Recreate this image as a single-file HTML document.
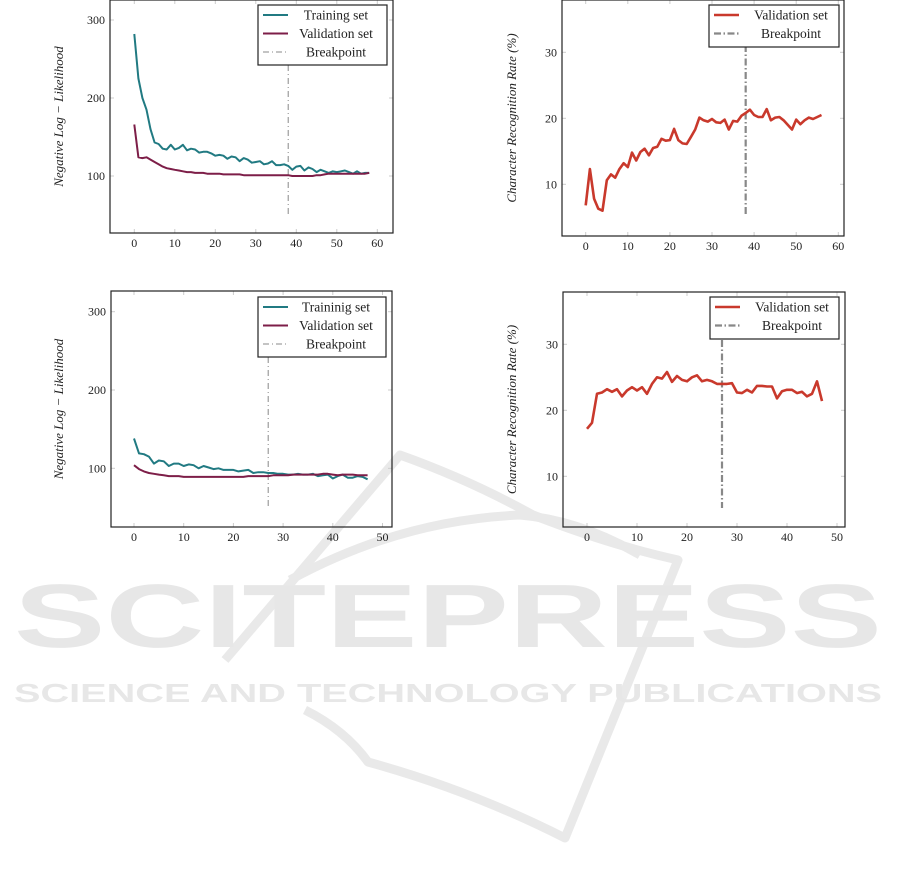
<!DOCTYPE html>
<html><head><meta charset="utf-8"><style>
html,body{margin:0;padding:0;background:#fff;}
svg{display:block;}
text{font-family:"Liberation Serif",serif;fill:#222;}
</style></head><body>
<svg id="s" width="901" height="876" viewBox="0 0 901 876" xmlns="http://www.w3.org/2000/svg">
<g fill="none" stroke="#e9e9e9" stroke-width="9" stroke-linejoin="round">
<path d="M225,660 L400,455 Q470,480 533,515 Q610,545 678,560 L565,838 Q470,790 368,762 Q345,730 305,710"/>
<path d="M290,580 Q400,520 520,515 Q580,520 640,555"/>
</g>
<text x="14" y="647" textLength="868" lengthAdjust="spacingAndGlyphs" style="fill:#e7e7e7;font-family:'Liberation Sans',sans-serif;font-weight:bold;font-size:90px">SCITEPRESS</text>
<text x="14" y="702" textLength="868" lengthAdjust="spacingAndGlyphs" style="fill:#e7e7e7;font-family:'Liberation Sans',sans-serif;font-weight:bold;font-size:26px">SCIENCE AND TECHNOLOGY PUBLICATIONS</text>
<g id="charts"></g>
</svg>
<script>
const g=document.getElementById('charts');
let h='';
function P(p){
 const {L,R,T,B,x0,xs,y0v,y1v,y0p,y1p,yt,xt}=p;
 const X=v=>x0+(v)*xs, Y=v=>y0p+(v-y0v)*(y1p-y0p)/(y1v-y0v);
 let s='';
 xt.forEach(v=>{s+=`<line x1="${X(v)}" y1="${T}" x2="${X(v)}" y2="${T+4}" stroke="#ccc"/><line x1="${X(v)}" y1="${B}" x2="${X(v)}" y2="${B-4}" stroke="#ccc"/>`;
  s+=`<text x="${X(v)}" y="${B+14}" font-size="12" text-anchor="middle">${v}</text>`;});
 yt.forEach(v=>{s+=`<line x1="${L}" y1="${Y(v)}" x2="${L+4}" y2="${Y(v)}" stroke="#ccc"/><line x1="${R}" y1="${Y(v)}" x2="${R-4}" y2="${Y(v)}" stroke="#ccc"/>`;
  s+=`<text x="${L-5}" y="${Y(v)+4}" font-size="12" text-anchor="end">${v}</text>`;});
 s+=`<line x1="${X(p.bp)}" y1="${p.bpy0}" x2="${X(p.bp)}" y2="${p.bpy1}" stroke="#888" stroke-width="${p.bw}" stroke-dasharray="${p.bw>1.5?'7,2.5,1.5,2.5':'6,3,1,3'}"/>`;
 p.series.forEach(sr=>{s+=`<polyline fill="none" stroke="${sr.c}" stroke-width="${sr.w}" stroke-linejoin="round" points="${sr.d.map((v,i)=>X(i).toFixed(1)+','+Y(v).toFixed(1)).join(' ')}"/>`;});
 s+=`<rect x="${L}" y="${T}" width="${R-L}" height="${B-T}" fill="none" stroke="#222" stroke-width="1.2"/>`;
 const lg=p.lg;
 s+=`<rect x="${lg.x}" y="${lg.y}" width="${lg.w}" height="${lg.h}" fill="#fff" stroke="#222" stroke-width="1.2"/>`;
 lg.items.forEach((it,i)=>{const yy=lg.y+10+i*18.5;
  s+=`<line x1="${lg.x+5}" y1="${yy}" x2="${lg.x+30}" y2="${yy}" stroke="${it.c}" stroke-width="${it.w}" ${it.dash?'stroke-dasharray="'+it.dash+'"':''}/>`;
  s+=`<text x="${lg.x+lg.tx}" y="${yy+4.5}" font-size="13.5" text-anchor="middle">${it.t}</text>`;});
 s+=`<text transform="translate(${p.ylx},${(T+B)/2}) rotate(-90)" font-size="13" font-style="italic" text-anchor="middle">${p.yl}</text>`;
 return s;
}
const TE='#217a82',MA='#7d1e48',RE='#c9392c';
const tl1=[282,225,200,185,160,143,141,135,134,140,134,136,140,133,135,134,130,131,131,129,126,127,126,122,125,124,119,123,121,117,118,119,115,116,119,114,114,115,113,108,112,113,107,111,109,105,108,106,104,106,105,106,107,105,103,106,103,104,104];
const vl1=[166,124,123,124,121,118,115,112,110,109,108,107,106,105,105,104,104,104,103,103,103,103,102,102,102,102,102,101,101,101,101,101,101,101,101,101,101,101,101,100,100,100,100,100,100,101,101,102,103,103,103,103,103,103,103,103,103,103,104];
const cr1=[6.8,12.3,7.8,6.3,6,10.6,11.5,11,12.3,13.2,12.6,14.8,13.6,14.9,15.4,14.4,15.5,15.7,16.9,16.6,16.7,18.4,16.7,16.2,16.1,17.2,18.3,20.1,19.7,19.5,19.9,19.4,19.3,19.8,18.3,19.6,19.5,20.4,20.8,21.3,20.5,20.2,20.2,21.4,19.7,20.1,20.2,19.7,19,18.3,19.8,19.1,19.7,20.1,19.9,20.2,20.5];
const tl2=[138,119,118,115,106,110,109,103,106,106,103,105,104,100,103,101,99,100,98,98,98,96,97,98,94,95,95,94,94,93,93,92,92,93,92,92,93,90,91,92,87,90,92,88,88,90,89,86];
const vl2=[104,99,96,94,93,92,91,90,90,90,89,89,89,89,89,89,89,89,89,89,89,89,89,90,90,90,90,90,91,91,91,91,92,92,92,92,92,92,93,93,92,91,92,92,92,91,91,91];
const cr2=[17.2,18.1,22.5,22.7,23.2,22.8,23.2,22.1,23,23.5,23,23.5,22.5,24,25,24.8,25.8,24.3,25.2,24.6,24.4,25,25.3,24.4,24.6,24.4,24,24,24,24.1,22.7,22.6,23.1,22.7,23.7,23.7,23.6,23.6,21.8,22.9,23.1,23.1,22.6,22.8,22.1,22.5,24.4,21.4];
h+=P({L:110,R:393,T:0,B:233,x0:134.3,xs:4.05,y0v:100,y1v:300,y0p:176,y1p:20,yt:[100,200,300],xt:[0,10,20,30,40,50,60],bp:38,bpy0:65,bpy1:217,bw:1,
 series:[{d:tl1,c:TE,w:2},{d:vl1,c:MA,w:2}],ylx:63,yl:"Negative Log − Likelihood",
 lg:{x:258,y:5,w:129,h:60,tx:78,items:[{c:TE,w:2,t:"Training set"},{c:MA,w:2,t:"Validation set"},{c:"#888",w:1,dash:"6,3,1,3",t:"Breakpoint"}]}});
h+=P({L:562,R:844,T:0,B:236,x0:585.7,xs:4.21,y0v:20,y1v:30,y0p:118.3,y1p:52.3,yt:[10,20,30],xt:[0,10,20,30,40,50,60],bp:38,bpy0:45,bpy1:216,bw:2.2,
 series:[{d:cr1,c:RE,w:2.6}],ylx:516,yl:"Character Recognition Rate (%)",
 lg:{x:709,y:5,w:130,h:42,tx:82,items:[{c:RE,w:2.6,t:"Validation set"},{c:"#888",w:2.2,dash:"7,2.5,1.5,2.5",t:"Breakpoint"}]}});
h+=P({L:111,R:392,T:291,B:527,x0:134,xs:4.97,y0v:100,y1v:300,y0p:468.3,y1p:311.7,yt:[100,200,300],xt:[0,10,20,30,40,50],bp:27,bpy0:357,bpy1:508,bw:1,
 series:[{d:tl2,c:TE,w:2},{d:vl2,c:MA,w:2}],ylx:63,yl:"Negative Log − Likelihood",
 lg:{x:258,y:297,w:128,h:60,tx:78,items:[{c:TE,w:2,t:"Traininig set"},{c:MA,w:2,t:"Validation set"},{c:"#888",w:1,dash:"6,3,1,3",t:"Breakpoint"}]}});
h+=P({L:563,R:845,T:292,B:527,x0:587,xs:5.0,y0v:20,y1v:30,y0p:410.3,y1p:344.3,yt:[10,20,30],xt:[0,10,20,30,40,50],bp:27,bpy0:340,bpy1:508,bw:2.2,
 series:[{d:cr2,c:RE,w:2.6}],ylx:516,yl:"Character Recognition Rate (%)",
 lg:{x:710,y:297,w:129,h:42,tx:82,items:[{c:RE,w:2.6,t:"Validation set"},{c:"#888",w:2.2,dash:"7,2.5,1.5,2.5",t:"Breakpoint"}]}});
g.innerHTML=h;
</script>
</body></html>
